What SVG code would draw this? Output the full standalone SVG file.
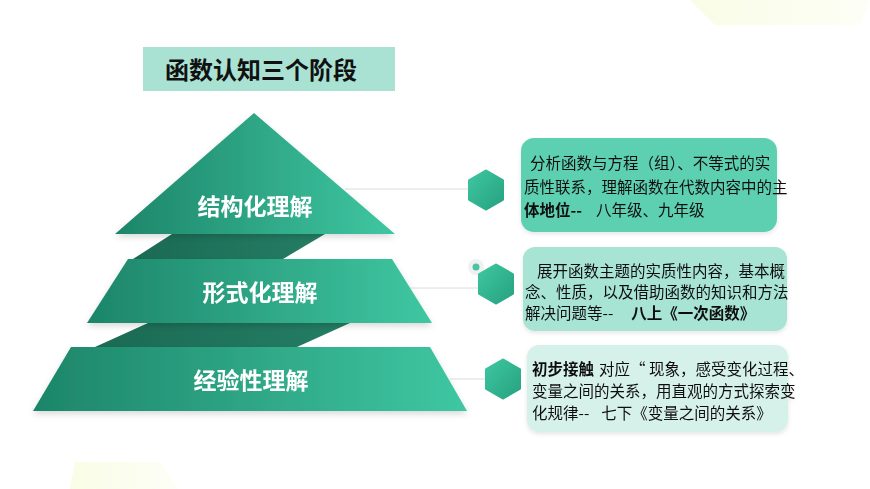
<svg xmlns="http://www.w3.org/2000/svg" width="870" height="489" viewBox="0 0 870 489">
<defs>
<linearGradient id="tier" x1="0" y1="0" x2="1" y2="0">
<stop offset="0" stop-color="#1d8569"/>
<stop offset="1" stop-color="#3fc7a2"/>
</linearGradient>
<linearGradient id="band" x1="0" y1="0" x2="1" y2="0">
<stop offset="0" stop-color="#1b6a54"/>
<stop offset="1" stop-color="#247d64"/>
</linearGradient>
<linearGradient id="hex" x1="0" y1="0" x2="1" y2="1">
<stop offset="0" stop-color="#3ec6a0"/>
<stop offset="1" stop-color="#27a281"/>
</linearGradient>
<linearGradient id="deco" x1="0" y1="0" x2="1" y2="0">
<stop offset="0" stop-color="#f9fde6"/>
<stop offset="1" stop-color="#fdfef6"/>
</linearGradient>
<filter id="sh" x="-10%" y="-10%" width="120%" height="130%">
<feDropShadow dx="0" dy="3" stdDeviation="3" flood-color="#000" flood-opacity="0.15"/>
</filter>
<filter id="sh2" x="-10%" y="-10%" width="120%" height="130%">
<feDropShadow dx="0" dy="2" stdDeviation="2" flood-color="#000" flood-opacity="0.10"/>
</filter>
<polygon id="hexshape" points="0,-19 16.5,-9.5 16.5,9.5 0,19 -16.5,9.5 -16.5,-9.5"/>
</defs>
<style>
.lbl{font-family:"Noto Sans CJK SC","Noto Sans",sans-serif;font-size:23px;fill:#ffffff;font-weight:bold;text-anchor:middle;dominant-baseline:central}
.txt{font-family:"Noto Sans CJK SC","Noto Sans",sans-serif;font-size:15.5px;fill:#111111}
.b{font-weight:bold}
.conn{stroke:#d9dedc;stroke-width:1;fill:none}
.hx{fill:url(#hex);stroke:url(#hex);stroke-width:3;stroke-linejoin:round}
</style>
<rect width="870" height="489" fill="#ffffff"/>
<!-- faint background decorations -->
<polygon points="690,0 870,0 860,25 715,25" fill="url(#deco)"/>
<polygon points="75,462 160,462 178,489 70,489" fill="url(#deco)"/>

<g id="title">
<rect x="143" y="47" width="252" height="44" fill="#a9e2d3"/>
<text x="261" y="79" font-family="'Noto Sans CJK SC',sans-serif" font-size="24" font-weight="bold" fill="#111" text-anchor="middle">函数认知三个阶段</text>
</g>

<g id="connectors">
<line class="conn" x1="345" y1="189" x2="469" y2="189"/>
<line class="conn" x1="410" y1="288" x2="478" y2="288"/>
<line class="conn" x1="450" y1="379" x2="485" y2="379"/>
</g>

<g id="bands">
<polygon points="172,234 325,234 283,259 133,259" fill="url(#band)"/>
<polygon points="148,323 350,323 297,347 95,347" fill="url(#band)"/>
</g>

<g id="tier1" filter="url(#sh)">
<polygon points="254,113 395,234 115,234" fill="url(#tier)"/>
<text class="lbl" x="255" y="205">结构化理解</text>
</g>
<g id="tier2" filter="url(#sh)">
<polygon points="128,259 392,259 432,323 87,323" fill="url(#tier)"/>
<text class="lbl" x="260" y="291">形式化理解</text>
</g>
<g id="tier3" filter="url(#sh)">
<polygon points="71,347 430,347 467,411 33,411" fill="url(#tier)"/>
<text class="lbl" x="251" y="379">经验性理解</text>
</g>

<g id="hex1">
<use href="#hexshape" class="hx" transform="translate(486,190)"/>
</g>
<g id="hex2">
<circle cx="476" cy="267" r="8" fill="#eef1f0"/>
<circle cx="476" cy="267" r="3.5" fill="#4cc3a2"/>
<use href="#hexshape" class="hx" transform="translate(496,284)"/>
</g>
<g id="hex3">
<use href="#hexshape" class="hx" transform="translate(503,379)"/>
</g>

<g id="box1" filter="url(#sh2)">
<rect x="521" y="138" width="256" height="94" rx="13" fill="#5dd0b1"/>
<text class="txt" x="530" y="169">分析函数与方程（组）、不等式的实</text>
<text class="txt" x="524" y="193">质性联系，理解函数在代数内容中的主</text>
<text class="txt" x="524" y="216"><tspan class="b">体地位--</tspan><tspan dx="14">八年级、九年级</tspan></text>
</g>
<g id="box2" filter="url(#sh2)">
<rect x="523" y="247" width="264" height="84" rx="12" fill="#a7e4d3"/>
<text class="txt" x="537" y="277">展开函数主题的实质性内容，基本概</text>
<text class="txt" x="525" y="298">念、性质，以及借助函数的知识和方法</text>
<text class="txt" x="525" y="319">解决问题等--<tspan class="b" dx="18">八上《一次函数》</tspan></text>
</g>
<g id="box3" filter="url(#sh2)">
<rect x="527" y="345" width="261" height="87" rx="12" fill="#d6f1e9"/>
<text class="txt" x="532" y="375"><tspan class="b">初步接触</tspan><tspan dx="5">对应“ 现象，感受变化过程、</tspan></text>
<text class="txt" x="532" y="397">变量之间的关系，用直观的方式探索变</text>
<text class="txt" x="532" y="419">化规律--<tspan dx="12">七下《变量之间的关系》</tspan></text>
</g>
</svg>
